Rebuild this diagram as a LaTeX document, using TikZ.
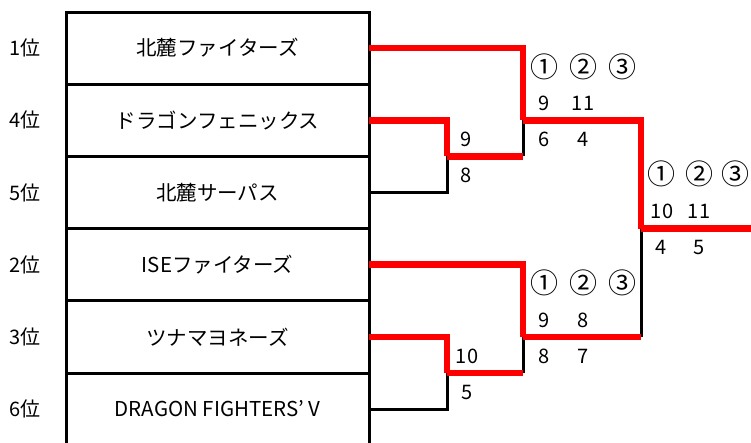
\documentclass[tikz,border=0pt]{standalone}
\usepackage{fontspec}
\setmainfont{Noto Sans CJK JP}
\usetikzlibrary{positioning}

\begin{document}
\begin{tikzpicture}[x=1pt, y=-1pt,
  team/.style={draw, line width=3pt, minimum width=303pt, minimum height=72.2pt, inner sep=0pt, outer sep=0pt, font=\fontsize{20.5}{24}\selectfont},
  rank/.style={inner sep=0pt, font=\fontsize{20}{24}\selectfont},
  score/.style={inner sep=0pt, font=\fontsize{20}{24}\selectfont},
  set/.style={inner sep=0pt, font=\fontsize{28}{32}\selectfont},
  win/.style={draw=red, line width=6.5pt},
  lose/.style={draw, line width=3pt}]
\useasboundingbox (0,0) rectangle (751,442);
\node[team] (t1) at (217.5,48.1) {北麓ファイターズ};
\node[team, below=0pt of t1] (t2) {ドラゴンフェニックス};
\node[team, below=0pt of t2] (t3) {北麓サーパス};
\node[team, below=0pt of t3] (t4) {ISEファイターズ};
\node[team, below=0pt of t4] (t5) {ツナマヨネーズ};
\node[team, below=0pt of t5] (t6) {DRAGON FIGHTERS’ V};
\node[rank, left=25pt of t1] (r1) {1位};
\node[rank, left=25pt of t2] (r4) {4位};
\node[rank, left=25pt of t3] (r5) {5位};
\node[rank, left=25pt of t4] (r2) {2位};
\node[rank, left=25pt of t5] (r3) {3位};
\node[rank, left=25pt of t6] (r6) {6位};
% bracket joints
\coordinate (jA) at (447,156.4);
\coordinate (jB) at (447,373);
\coordinate (j1) at (523,120.3);
\coordinate (k1) at (523,156.4);
\coordinate (j2) at (523,336.9);
\coordinate (k2) at (523,373);
\coordinate (jF) at (641,228.6);
\coordinate (k3) at (641,336.9);
\coordinate (champ) at (755,228.6);
% losers
\draw[lose] (t3.east) -| (jA);
\draw[lose] (t6.east) -| (jB);
\draw[lose] (k1) -- (j1);
\draw[lose] (k2) -- (j2);
\draw[lose] (k3) -- (jF);
% winners
\draw[win] (t2.east) -| (jA);
\draw[win] (t5.east) -| (jB);
\draw[win] (jA) -- (k1);
\draw[win] (jB) -- (k2);
\draw[win] (t1.east) -| (j1);
\draw[win] (t4.east) -| (j2);
\draw[win] (j2) -- (k3);
\draw[win] (j1) -| (jF);
\draw[win] (jF) -- (champ);
% scores
\node[score] (a1) at (466,139) {9};
\node[score] (a2) at (466,175) {8};
\node[score] (b1) at (467,356) {10};
\node[score] (b2) at (467,392) {5};
\node[set] (c1) at (544,67) {①};
\node[set] (c2) at (583,67) {②};
\node[set] (c3) at (622,67) {③};
\node[score] (c4) at (544,103) {9};
\node[score] (c5) at (583,103) {11};
\node[score] (c6) at (544,139) {6};
\node[score] (c7) at (583,139) {4};
\node[set] (d1) at (544,283) {①};
\node[set] (d2) at (583,283) {②};
\node[set] (d3) at (622,283) {③};
\node[score] (d4) at (544,320) {9};
\node[score] (d5) at (583,320) {8};
\node[score] (d6) at (544,356) {8};
\node[score] (d7) at (583,356) {7};
\node[set] (f1) at (661,174) {①};
\node[set] (f2) at (699,174) {②};
\node[set] (f3) at (735,174) {③};
\node[score] (f4) at (662,211) {10};
\node[score] (f5) at (699,211) {11};
\node[score] (f6) at (661,247) {4};
\node[score] (f7) at (699,247) {5};
\end{tikzpicture}
\end{document}
